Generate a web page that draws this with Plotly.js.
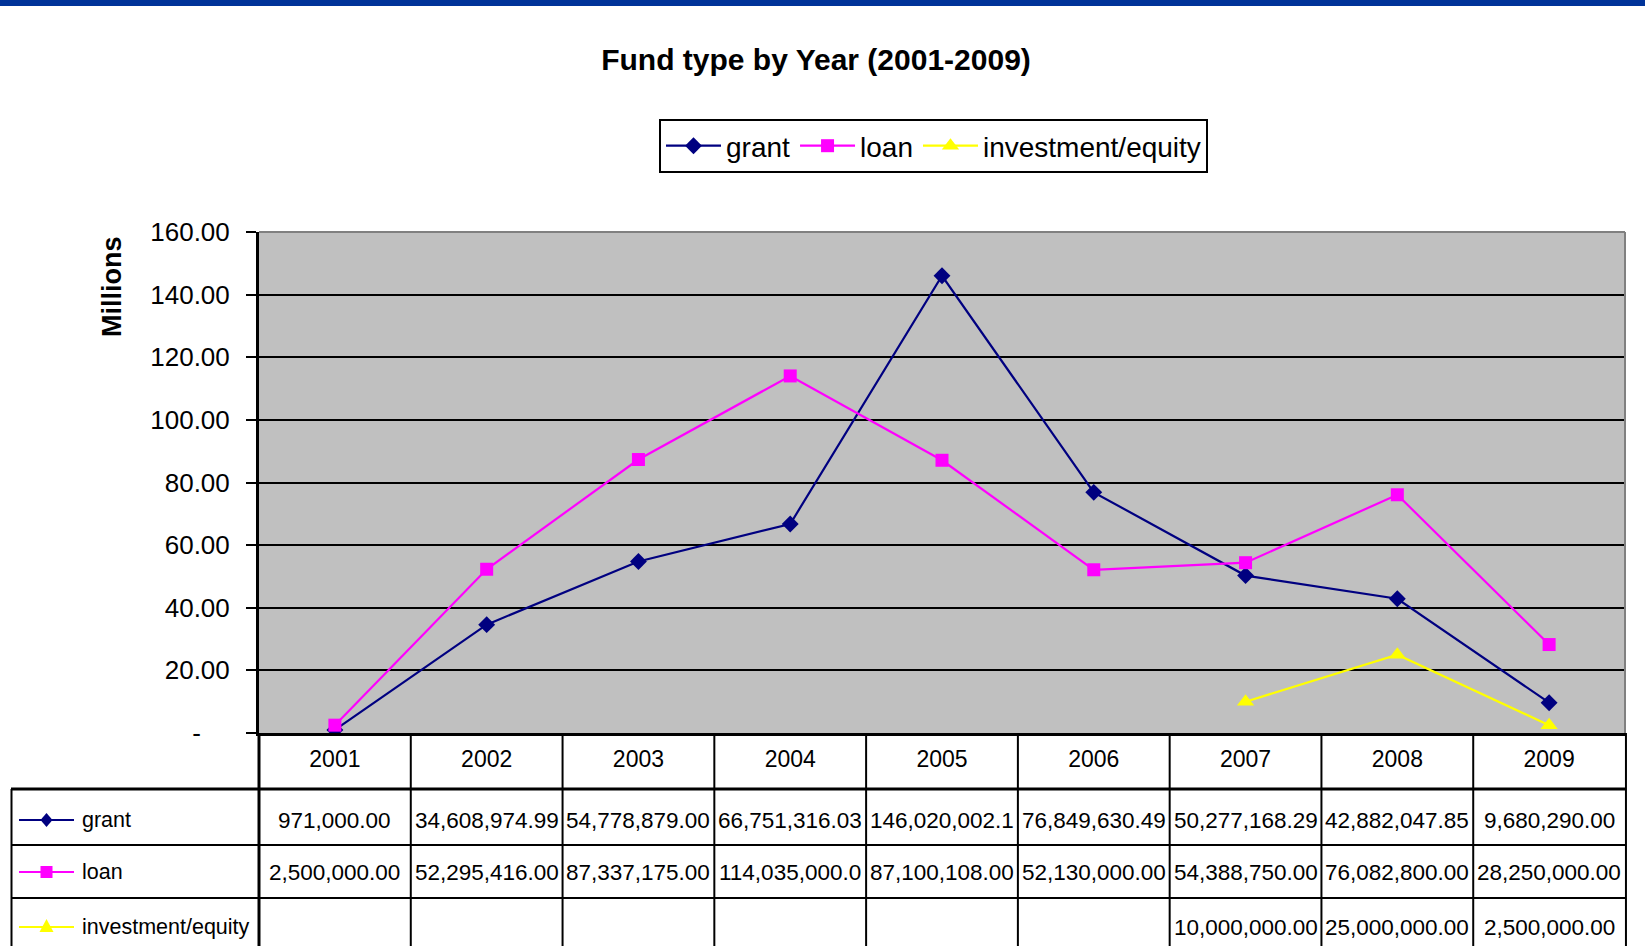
<!DOCTYPE html>
<html><head><meta charset="utf-8">
<script src="https://cdn.plot.ly/plotly-3.0.1.min.js"></script>
<style>html,body{margin:0;padding:0;background:#fff;overflow:hidden}#chart{width:1645px;height:946px}</style>
</head><body><div id="chart"></div>
<script>
// ---- data ----
const years = ['2001','2002','2003','2004','2005','2006','2007','2008','2009'];
const grant = [971000.00, 34608974.99, 54778879.00, 66751316.03, 146020002.10, 76849630.49, 50277168.29, 42882047.85, 9680290.00];
const loan = [2500000.00, 52295416.00, 87337175.00, 114035000.00, 87100108.00, 52130000.00, 54388750.00, 76082800.00, 28250000.00];
const investment = [null, null, null, null, null, null, 10000000.00, 25000000.00, 2500000.00];
const seriesNames = ['grant', 'loan', 'investment/equity'];
const yTickVals = [0, 20, 40, 60, 80, 100, 120, 140, 160];
const yTickText = ['-\u00a0\u00a0\u00a0\u00a0', '20.00', '40.00', '60.00', '80.00', '100.00', '120.00', '140.00', '160.00'];
const chartTitle = 'Fund type by Year (2001-2009)';
const yTitle = 'Millions';

// ---- geometry ----
const W = 1645, H = 946, ML = 259, MR = 20, MT = 232, MB = 213;
const PW = W - ML - MR, PH = H - MT - MB;
const px = x => (x - ML) / PW;
const py = y => (H - MB - y) / PH;
const FONT = "'Liberation Sans', Arial, sans-serif";
const colors = ['#000080', '#FF00FF', '#FFFF00'];
const symbols = ['diamond', 'square', 'triangle-up'];
const msizes = [13, 13, 15];
const series = [grant, loan, investment];

const traces = series.map((s, i) => ({
  type: 'scatter', mode: 'lines+markers', name: seriesNames[i],
  x: years, y: s.map(v => v === null ? null : v / 1e6),
  line: {color: colors[i], width: 2.2},
  marker: {symbol: symbols[i], size: msizes[i], color: colors[i], line: {width: 0}},
  connectgaps: false
}));

// table geometry (pixels)
const rowLines = [789, 845, 898];
const rowCenters = [820, 872, 927];
const tableBottom = 960;
const shapes = [];
// top blue bar
shapes.push({type: 'rect', xref: 'paper', yref: 'paper', x0: px(0), x1: px(W), y0: py(6), y1: py(0), fillcolor: '#003399', line: {width: 0}, layer: 'above'});
// plot border top/right (gray)
shapes.push({type: 'line', xref: 'paper', yref: 'paper', x0: 0, x1: 1, y0: 1, y1: 1, line: {color: '#808080', width: 2}});
shapes.push({type: 'line', xref: 'paper', yref: 'paper', x0: 1, x1: 1, y0: 0, y1: 1, line: {color: '#808080', width: 2}});
// table horizontal lines
rowLines.forEach((y, i) => shapes.push({type: 'line', xref: 'paper', yref: 'paper', x0: px(11), x1: 1.0007, y0: py(y), y1: py(y), line: {color: '#000', width: i === 0 ? 3 : 2}}));
// table vertical lines
shapes.push({type: 'line', xref: 'paper', yref: 'paper', x0: px(11.5), x1: px(11.5), y0: py(rowLines[0]), y1: py(tableBottom), line: {color: '#000', width: 2}});
shapes.push({type: 'line', xref: 'paper', yref: 'paper', x0: 0, x1: 0, y0: 0, y1: py(tableBottom), line: {color: '#000', width: 3}});
shapes.push({type: 'line', xref: 'paper', yref: 'paper', x0: 1.0007, x1: 1.0007, y0: 0, y1: py(tableBottom), line: {color: '#000', width: 2}});
for (let i = 0; i < years.length - 1; i++) {
  shapes.push({type: 'line', xref: 'x', yref: 'paper', x0: i + 0.5, x1: i + 0.5, y0: 0, y1: py(tableBottom), line: {color: '#000', width: 2}});
}
// legend keys inside table
const keyPaths = [
  'M0,7 L6,0 L0,-7 L-6,0 Z',
  'M-6,-6 L6,-6 L6,6 L-6,6 Z',
  'M0,8 L7,-5 L-7,-5 Z'
];
rowCenters.forEach((y, i) => {
  shapes.push({type: 'line', xref: 'paper', yref: 'paper', x0: px(19), x1: px(74), y0: py(y), y1: py(y), line: {color: colors[i], width: 2}});
  shapes.push({type: 'path', xref: 'paper', yref: 'paper', xsizemode: 'pixel', ysizemode: 'pixel', xanchor: px(46.5), yanchor: py(y), path: keyPaths[i], fillcolor: colors[i], line: {width: 0}});
});

const fmt = v => v === null ? '' : v.toLocaleString('en-US', {minimumFractionDigits: 2, maximumFractionDigits: 2}).slice(0, 13);
const annotations = [];
series.forEach((s, r) => {
  annotations.push({xref: 'paper', yref: 'paper', x: px(80), y: py(rowCenters[r]), xanchor: 'left', yanchor: 'middle', text: seriesNames[r], showarrow: false, font: {family: FONT, size: 21.5, color: '#000'}});
  s.forEach((v, c) => {
    if (v === null) return;
    annotations.push({xref: 'x', yref: 'paper', x: c, y: py(rowCenters[r]), xanchor: 'center', yanchor: 'middle', text: fmt(v), showarrow: false, font: {family: FONT, size: 22.5, color: '#000'}});
  });
});
annotations.push({xref: 'paper', yref: 'paper', x: px(112), y: py(287), xanchor: 'center', yanchor: 'middle', textangle: -90, text: '<b>' + yTitle + '</b>', showarrow: false, font: {family: FONT, size: 27, color: '#000'}});

const layout = {
  width: W, height: H,
  margin: {l: ML, r: MR, t: MT, b: MB, pad: 0},
  paper_bgcolor: '#fff', plot_bgcolor: '#C0C0C0',
  title: {text: '<b>' + chartTitle + '</b>', x: 816 / W, xref: 'container', xanchor: 'center', y: 1 - 59 / H, yref: 'container', yanchor: 'middle', font: {family: FONT, size: 30, color: '#000'}},
  showlegend: true,
  legend: {orientation: 'h', x: px(659), y: py(119), xanchor: 'left', yanchor: 'top', bgcolor: '#fff', bordercolor: '#000', borderwidth: 2, itemwidth: 55, font: {family: FONT, size: 28, color: '#000'}},
  xaxis: {type: 'category', range: [-0.5, 8.5], showgrid: false, zeroline: false, showline: true, linecolor: '#000', linewidth: 3, ticks: '', tickfont: {family: FONT, size: 23, color: '#000'}, ticklabelstandoff: 3, fixedrange: true},
  yaxis: {range: [0, 160], tickvals: yTickVals, ticktext: yTickText, showgrid: true, gridcolor: '#000', gridwidth: 2, zeroline: false, showline: true, linecolor: '#000', linewidth: 3, ticks: 'outside', ticklen: 10, tickwidth: 2, tickcolor: '#000', tickfont: {family: FONT, size: 26, color: '#000'}, ticklabelstandoff: 11, fixedrange: true},
  shapes: shapes,
  annotations: annotations
};
Plotly.newPlot('chart', traces, layout, {displayModeBar: false, staticPlot: true});
</script></body></html>
